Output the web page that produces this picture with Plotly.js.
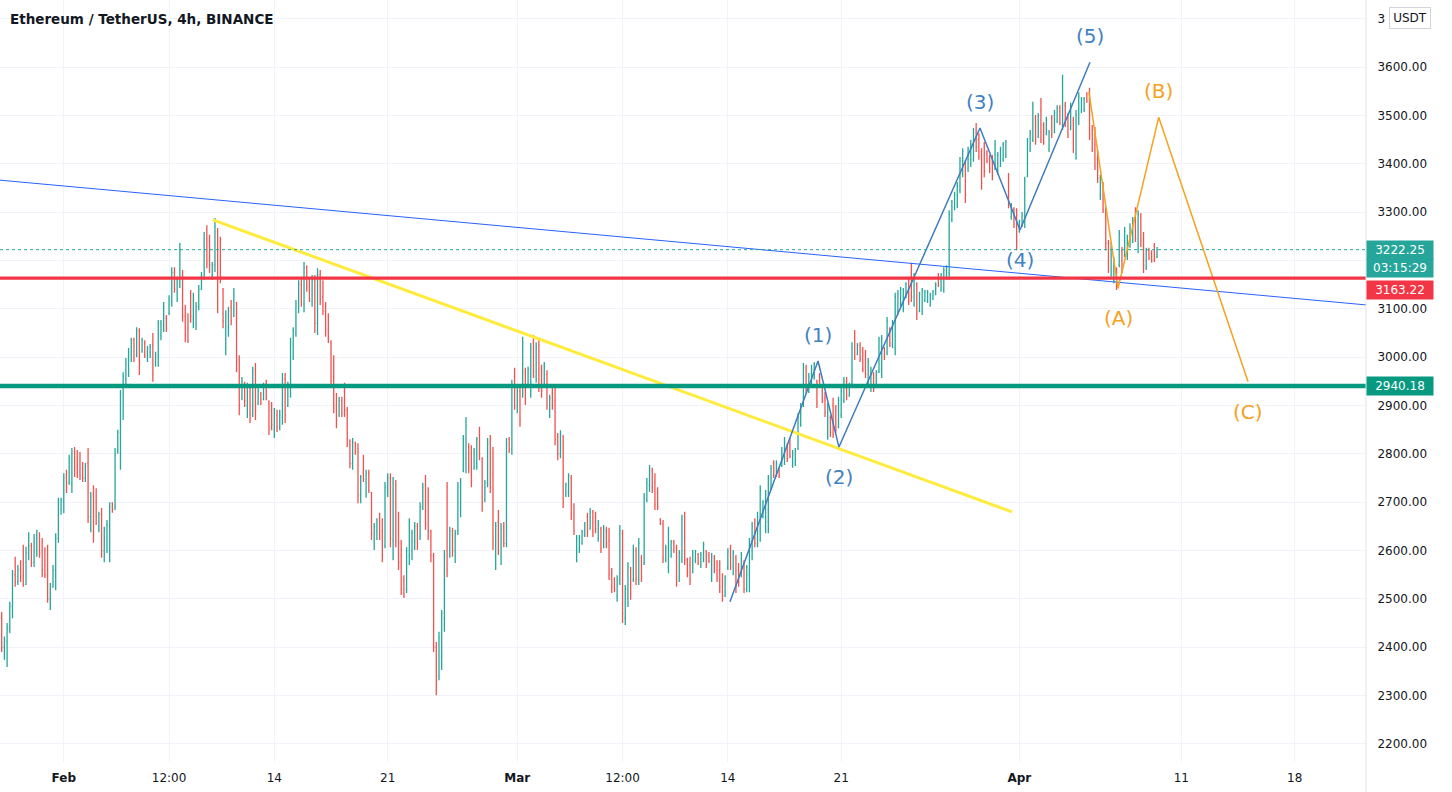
<!DOCTYPE html>
<html><head><meta charset="utf-8">
<script src="https://cdn.plot.ly/plotly-3.0.1.min.js"></script>
<style>html,body{margin:0;padding:0;background:#fff;}#chart{width:1452px;height:792px;}</style>
</head><body><div id="chart"></div>
<script>
// ---- DATA ----
const barStart = '2022-01-28 04:00';
const barHours = 4;
const barOpen = [
2460,2400,2412,2440,2485,2550,2535,2562,2548,2530,2595,2610,2575,2625,2636,2600,2570,2550,2500,2525,2560,2625,2685,2700,2755,2740,2740,2805,2775,2762,2770,2750,2780,2670,2715,2700,2650,2675,2600,2625,2600,2698,2690,2805,
2845,2920,2955,2985,3005,3035,3005,3055,3012,3030,3000,3010,3025,2985,3000,3045,3065,3080,3090,3115,3175,3135,3155,3170,3085,3060,3130,3080,3070,3105,3140,3165,3245,3240,3170,3190,3260,3240,3140,3020,3060,3105,3085,
3110,2995,2915,2945,2900,2935,2885,2975,2905,2925,2912,2945,2905,2890,2850,2880,2855,2875,2955,2900,2935,3025,3050,3105,3150,3110,3185,3150,3115,3160,3070,3170,3125,3095,3060,3030,2960,2900,2880,2910,2930,2890,2825,
2780,2822,2810,2715,2760,2720,2760,2720,2620,2640,2665,2640,2610,2725,2750,2620,2735,2640,2590,2540,2520,2590,2600,2620,2650,2630,2690,2735,2700,2640,2590,2400,2340,2380,2460,2600,2590,2640,2600,2640,2690,2765,2790,2815,
2800,2770,2780,2840,2790,2705,2740,2825,2760,2590,2660,2590,2650,2615,2830,2810,2960,2895,2930,2920,2970,2940,2930,3030,2960,3025,2975,2940,2965,2880,2925,2910,2835,2800,2835,2715,2720,2750,2680,2585,2605,2615,2632,2670,
2645,2680,2670,2625,2645,2610,2640,2620,2555,2540,2505,2540,2635,2460,2500,2560,2540,2600,2540,2585,2575,2705,2735,2765,2740,2720,2665,2655,2580,2565,2590,2618,2605,2545,2585,2670,2580,2570,2555,2580,2592,2570,2585,
2598,2590,2545,2585,2575,2560,2540,2508,2565,2605,2565,2585,2560,2548,2575,2520,2550,2600,2655,2615,2640,2670,2650,2660,2730,2780,2755,2770,2775,2790,2815,2820,2775,2780,2812,2860,2900,2975,2930,2945,2958,2950,2960,
2930,2915,2840,2875,2900,2890,2855,2880,2910,2950,2920,2945,3040,3005,3025,3010,2995,2945,2940,2965,2940,2970,2975,3018,3010,3058,3025,3020,3095,3110,3100,3125,3160,3170,3110,3150,3095,3095,3118,3115,3108,3120,3130,3170,3140,
3140,3165,3175,3285,3310,3315,3345,3380,3400,3390,3400,3410,3470,3450,3425,3435,3425,3410,3405,3390,3385,3395,3410,3415,3375,3290,3305,3290,3260,3272,3280,3375,3430,3450,3495,3455,3510,3480,3460,3430,3495,3465,3488,3515,
3480,3520,3495,3470,3490,3420,3495,3510,3512,3545,3535,3470,3440,3410,3335,3355,3305,3235,3180,3160,3180,3190,3220,3210,3215,3230,3240,3300,3225,3290,3245,3185,3220,3215,3230,3208
];
const barHigh = [
2473,2422,2450,2494,2560,2587,2570,2580,2612,2608,2638,2616,2634,2643,2638,2626,2607,2612,2533,2570,2636,2709,2709,2760,2767,2798,2812,2814,2808,2804,2783,2781,2812,2721,2735,2729,2680,2688,2649,2663,2700,2700,2812,2850,
2932,2969,2998,3019,3040,3040,3062,3060,3040,3035,3023,3027,3050,3011,3077,3077,3114,3087,3128,3186,3186,3166,3236,3180,3108,3091,3139,3133,3114,3149,3176,3259,3273,3253,3197,3288,3267,3249,3143,3097,3104,3118,3143,
3114,3004,2959,2949,2947,2938,2980,2988,2938,2928,2947,2953,2911,2907,2895,2891,2891,2967,2967,2949,3040,3062,3118,3159,3164,3197,3190,3164,3170,3170,3184,3180,3159,3114,3091,3035,3004,2926,2918,2918,2947,2897,2830,
2833,2825,2822,2756,2798,2767,2767,2721,2657,2667,2678,2667,2742,2760,2760,2752,2746,2680,2622,2549,2607,2667,2643,2659,2657,2700,2740,2756,2731,2643,2595,2411,2432,2477,2601,2742,2649,2647,2643,2742,2750,2839,2876,2822,
2818,2812,2835,2856,2793,2746,2833,2839,2814,2659,2684,2657,2659,2833,2835,2953,2978,2938,2938,3042,2978,2980,3029,3046,3031,3035,2984,2990,2973,2922,2938,2938,2843,2849,2839,2740,2760,2756,2698,2632,2632,2643,2659,2678,
2688,2684,2680,2663,2649,2653,2649,2647,2564,2545,2549,2653,2643,2529,2576,2566,2612,2607,2626,2591,2719,2750,2777,2771,2760,2731,2667,2663,2612,2649,2622,2622,2612,2601,2674,2680,2585,2587,2601,2601,2595,2597,2618,
2601,2597,2595,2591,2580,2580,2553,2549,2605,2612,2601,2591,2574,2597,2580,2570,2626,2659,2667,2680,2735,2704,2725,2756,2777,2787,2787,2771,2814,2835,2822,2833,2808,2812,2884,2905,2988,2984,2967,2984,2990,2953,2967,
2936,2928,2905,2880,2916,2901,2918,2938,2959,2959,2947,3031,3056,3029,3031,3021,3015,2998,2980,2969,2973,3042,3046,3021,3083,3062,3077,3133,3139,3145,3143,3155,3166,3195,3174,3155,3135,3143,3139,3139,3133,3139,3155,3174,3174,
3186,3190,3304,3325,3342,3362,3414,3432,3408,3435,3449,3474,3484,3463,3432,3445,3428,3418,3418,3449,3424,3435,3445,3449,3381,3319,3310,3308,3284,3300,3373,3453,3470,3528,3501,3505,3536,3486,3497,3470,3501,3511,3521,3521,
3584,3528,3505,3526,3497,3511,3548,3538,3538,3548,3557,3480,3476,3428,3377,3362,3310,3242,3238,3207,3186,3263,3228,3269,3253,3277,3290,3310,3304,3298,3259,3226,3226,3221,3236,3228
];
const barLow = [
2390,2374,2359,2429,2460,2525,2529,2535,2525,2529,2580,2566,2566,2587,2585,2545,2543,2492,2477,2523,2518,2616,2674,2677,2719,2736,2719,2752,2750,2746,2742,2742,2657,2638,2616,2653,2638,2585,2576,2595,2576,2678,2684,2800,
2767,2870,2942,2959,2990,2990,3000,2963,3009,2998,2990,2998,2949,2980,2980,3035,3052,3052,3087,3104,3133,3114,3143,3073,3031,3029,3071,3060,3056,3097,3139,3160,3184,3174,3160,3176,3091,3153,3060,3004,3042,3066,3083,
2969,2880,2911,2897,2874,2864,2876,2870,2901,2901,2911,2911,2839,2849,2833,2845,2849,2860,2864,2897,2916,2994,3042,3091,3104,3093,3135,3114,3104,3050,3046,3108,3087,3042,3029,2938,2884,2853,2876,2876,2876,2814,2770,
2767,2798,2698,2698,2742,2709,2719,2622,2601,2622,2622,2576,2605,2711,2607,2580,2607,2560,2508,2502,2512,2570,2580,2601,2601,2622,2684,2643,2622,2576,2390,2301,2332,2353,2432,2545,2585,2587,2574,2632,2669,2762,2760,2760,
2731,2767,2767,2787,2680,2700,2731,2719,2601,2560,2591,2570,2607,2607,2802,2798,2891,2884,2856,2916,2901,2936,2916,2957,2947,2928,2916,2936,2891,2874,2891,2818,2787,2791,2688,2711,2711,2663,2632,2576,2595,2612,2628,2628,
2643,2628,2636,2618,2595,2605,2605,2539,2512,2514,2494,2529,2450,2446,2483,2498,2535,2529,2529,2535,2570,2700,2721,2719,2684,2684,2653,2574,2576,2553,2585,2595,2525,2535,2574,2570,2545,2529,2553,2574,2570,2564,2576,
2564,2574,2535,2553,2535,2512,2494,2504,2560,2560,2549,2512,2525,2545,2512,2514,2514,2580,2607,2607,2618,2667,2636,2636,2725,2750,2752,2750,2773,2777,2783,2791,2771,2775,2808,2856,2897,2926,2926,2936,2953,2895,2938,
2905,2876,2829,2835,2833,2843,2853,2874,2905,2911,2918,2942,2994,3004,2990,2969,2957,2938,2928,2928,2936,2967,2957,2994,3004,3021,3019,3004,3087,3104,3093,3122,3108,3114,3104,3077,3093,3087,3114,3112,3104,3118,3128,3145,3135,
3133,3160,3160,3279,3304,3308,3339,3372,3319,3383,3393,3404,3424,3408,3346,3372,3401,3381,3366,3387,3377,3393,3404,3412,3308,3284,3267,3221,3257,3269,3267,3372,3424,3445,3439,3453,3443,3439,3459,3424,3453,3463,3484,3480,
3470,3476,3453,3470,3422,3408,3480,3505,3507,3526,3449,3424,3387,3360,3325,3298,3221,3174,3166,3153,3139,3186,3174,3207,3201,3226,3236,3238,3215,3228,3174,3180,3201,3195,3197,3205
];
const barClose = [
2400,2415,2440,2485,2550,2535,2560,2545,2530,2595,2610,2575,2625,2640,2595,2560,2550,2500,2525,2560,2625,2700,2705,2750,2730,2790,2800,2770,2760,2755,2750,2775,2670,2710,2640,2670,2675,2600,2630,2655,2690,2685,2800,2845,
2925,2960,2990,3010,3035,3000,3055,2990,3035,3005,3018,3022,2965,3005,3070,3070,3105,3060,3120,3175,3140,3160,3220,3085,3045,3035,3085,3120,3105,3140,3170,3245,3195,3190,3192,3270,3110,3165,3075,3085,3095,3075,3130,
2990,2900,2950,2910,2940,2880,2970,2890,2930,2905,2940,2915,2850,2860,2885,2855,2880,2955,2880,2940,3030,3055,3110,3150,3115,3185,3145,3120,3160,3070,3170,3120,3095,3055,3040,2950,2895,2870,2910,2885,2890,2830,2780,
2825,2805,2715,2752,2748,2760,2725,2635,2650,2660,2630,2590,2730,2750,2625,2740,2620,2575,2520,2510,2600,2660,2635,2650,2610,2690,2730,2655,2640,2590,2400,2330,2420,2470,2590,2560,2640,2600,2635,2730,2740,2830,2860,2770,
2745,2805,2830,2800,2700,2740,2820,2730,2620,2650,2600,2645,2615,2820,2810,2940,2900,2930,2870,3030,2915,2975,3020,2970,3020,2940,2930,2980,2900,2915,2900,2830,2800,2840,2700,2735,2755,2675,2640,2625,2628,2638,2655,2640,
2680,2640,2645,2655,2605,2645,2615,2550,2525,2520,2540,2640,2470,2520,2565,2510,2600,2540,2615,2545,2710,2740,2770,2730,2695,2690,2656,2585,2605,2640,2618,2600,2540,2595,2665,2580,2555,2540,2595,2598,2575,2592,2612,
2570,2578,2588,2560,2545,2525,2505,2545,2598,2570,2595,2525,2535,2590,2520,2565,2620,2650,2615,2670,2725,2700,2715,2745,2770,2755,2780,2755,2805,2825,2790,2795,2800,2805,2875,2900,2980,2935,2960,2975,2985,2905,2940,
2910,2885,2895,2845,2840,2850,2910,2930,2950,2920,2942,3020,3000,3025,2995,2975,2965,2990,2975,2935,2968,3035,3040,3000,3075,3030,3070,3125,3130,3140,3138,3150,3115,3125,3165,3090,3130,3138,3135,3135,3128,3136,3150,3150,3170,
3180,3185,3295,3320,3335,3355,3405,3425,3335,3430,3440,3465,3435,3415,3360,3385,3405,3390,3375,3440,3418,3430,3440,3445,3315,3315,3275,3240,3280,3295,3365,3445,3465,3520,3450,3500,3450,3445,3490,3465,3460,3505,3515,3485,
3540,3485,3460,3515,3430,3500,3540,3532,3535,3530,3460,3430,3395,3370,3370,3305,3235,3185,3230,3200,3150,3255,3185,3260,3250,3270,3285,3245,3295,3240,3190,3220,3205,3200,3205,3222.25
];

const priceTicks = [2200,2300,2400,2500,2600,2700,2800,2900,3000,3100,3200,3300,3400,3500,3600,3700];
// in the reference the 3200 label is covered by the last-price box and the top label by the currency box (only "3" shows)
const priceTickText = ['2200.00','2300.00','2400.00','2500.00','2600.00','2700.00','2800.00','2900.00','3000.00','3100.00','','3300.00','3400.00','3500.00','3600.00','3'];
const timeTickVals = ['2022-02-01','2022-02-07 12:00','2022-02-14','2022-02-21','2022-03-01','2022-03-07 12:00','2022-03-14','2022-03-21','2022-04-01','2022-04-11','2022-04-18'];
const timeTickText = ['<b>Feb</b>','12:00','14','21','<b>Mar</b>','12:00','14','21','<b>Apr</b>','11','18'];

const lastPrice = 3222.25;
const lastCountdown = '03:15:29';
const redLevel = 3163.22;
const greenLevel = 2940.18;

const trendTimes = ['2022-01-28 01:29','2022-04-22 09:40'];
const trendPrices = [3366, 3108];
const yellowTimes = ['2022-02-10 05:00','2022-03-31 13:00'];
const yellowPrices = [3284, 2680];
const waveTimes = ['2022-03-14 03:10','2022-03-19 13:40','2022-03-20 20:40','2022-03-29 13:40','2022-04-01 01:00','2022-04-05 08:40'];
const wavePrices = [2494, 2992, 2814, 3474, 3263, 3610];
const waveLabels = ['', '(1)', '(2)', '(3)', '(4)', '(5)'];
const corrTimes = ['2022-04-05 07:00','2022-04-07 02:10','2022-04-09 14:30','2022-04-15 02:55'];
const corrPrices = [3549, 3142, 3496, 2949];
const corrLabels = ['', '(A)', '(B)', '(C)'];

// ---- BUILD ----
const startMs = Date.parse(barStart.replace(' ', 'T') + ':00Z');
const barTimes = barOpen.map((_, i) => new Date(startMs + i * barHours * 3600e3).toISOString().slice(0, 16).replace('T', ' '));

const PLOT_W = 1366, PLOT_H = 762;
const FONT = 'DejaVu Sans';
const waveColor = '#4282c2', corrColor = '#f5a21e';

const traces = [
  {type:'ohlc', x:barTimes, open:barOpen, high:barHigh, low:barLow, close:barClose,
   increasing:{line:{color:'#26a69a', width:1.3}}, decreasing:{line:{color:'#ef5350', width:1.3}},
   hoverinfo:'skip', showlegend:false},
  {type:'scatter', mode:'lines', x:trendTimes, y:trendPrices, line:{color:'#2962ff', width:1}, hoverinfo:'skip', showlegend:false},
  {type:'scatter', mode:'lines', x:yellowTimes, y:yellowPrices, line:{color:'#ffeb3b', width:3}, hoverinfo:'skip', showlegend:false},
  {type:'scatter', mode:'lines', x:waveTimes, y:wavePrices, line:{color:'#3f7dbd', width:1.5}, hoverinfo:'skip', showlegend:false},
  {type:'scatter', mode:'lines', x:corrTimes, y:corrPrices, line:{color:corrColor, width:1.5}, hoverinfo:'skip', showlegend:false}
];

const annotations = [];
function pivotLabels(times, prices, labels, color) {
  labels.forEach((t, i) => {
    if (!t) return;
    const up = prices[i] > prices[i - 1];
    annotations.push({xref:'x', yref:'y', x:times[i], y:prices[i], text:t, showarrow:false,
      yshift: up ? 26 : -30, font:{family:FONT, size:20, color:color}});
  });
}
pivotLabels(waveTimes, wavePrices, waveLabels, waveColor);
pivotLabels(corrTimes, corrPrices, corrLabels, corrColor);

function priceBox(y, text, color, anchor, shift) {
  annotations.push({xref:'paper', yref:'y', x:1, xanchor:'left', y:y, yanchor:anchor, yshift:shift,
    text:text, showarrow:false, align:'center', width:64, height:16,
    bgcolor:color, borderpad:1, font:{family:FONT, size:12, color:'#ffffff'}});
}
// last price with countdown below it (one box made of two rows)
priceBox(lastPrice, lastPrice.toFixed(2), '#26a69a', 'top', 10);
priceBox(lastPrice, lastCountdown, '#26a69a', 'top', -8);
priceBox(redLevel, redLevel.toFixed(2), '#f23645', 'top', -2);
priceBox(greenLevel, greenLevel.toFixed(2), '#089981', 'middle', 0);

// currency box
annotations.push({xref:'paper', yref:'paper', x:1389 / PLOT_W, xanchor:'left', y:1 - 7 / PLOT_H, yanchor:'top',
  text:'USDT', showarrow:false, width:38, height:18, bgcolor:'#ffffff', bordercolor:'#d1d4dc', borderwidth:1, borderpad:1,
  font:{family:FONT, size:12, color:'#131722'}});

const shapes = [
  {type:'line', xref:'paper', x0:0, x1:1, yref:'y', y0:lastPrice, y1:lastPrice, line:{color:'#26a69a', width:1, dash:'dot'}},
  {type:'line', xref:'paper', x0:0, x1:1, yref:'y', y0:redLevel, y1:redLevel, line:{color:'#f23645', width:3.3}},
  {type:'line', xref:'paper', x0:0, x1:1, yref:'y', y0:greenLevel, y1:greenLevel, line:{color:'#089981', width:4.6}},
  {type:'line', xref:'paper', x0:1, x1:1, yref:'paper', y0:-30 / PLOT_H, y1:1, line:{color:'#e0e3eb', width:1}}
];

const layout = {
  width:1452, height:792,
  margin:{l:0, r:86, t:0, b:30, pad:0},
  paper_bgcolor:'#ffffff', plot_bgcolor:'#ffffff',
  font:{family:FONT, size:12, color:'#131722'},
  showlegend:false,
  title:{text:'Ethereum / TetherUS, 4h, BINANCE', x:10 / 1452, xanchor:'left', y:1 - 19 / 792, yanchor:'middle',
    font:{family:FONT, size:13.5, weight:'bold', color:'#131722'}},
  xaxis:{type:'date', range:trendTimes, rangeslider:{visible:false}, fixedrange:true,
    tickvals:timeTickVals, ticktext:timeTickText, tickmode:'array',
    showgrid:true, gridcolor:'#f0f3fa', gridwidth:1, zeroline:false, showline:false,
    ticks:'outside', ticklen:5, tickcolor:'rgba(0,0,0,0)', tickfont:{family:FONT, size:12, color:'#131722'}},
  yaxis:{side:'right', range:[2162.7, 3738.6], fixedrange:true, tickmode:'array', tickvals:priceTicks, ticktext:priceTickText,
    showgrid:true, gridcolor:'#f0f3fa', gridwidth:1, zeroline:false, showline:false,
    ticks:'outside', ticklen:8, tickcolor:'rgba(0,0,0,0)', tickfont:{family:FONT, size:12, color:'#131722'}},
  annotations:annotations,
  shapes:shapes
};

Plotly.newPlot('chart', traces, layout, {staticPlot:true, displayModeBar:false});
</script>
</body></html>
